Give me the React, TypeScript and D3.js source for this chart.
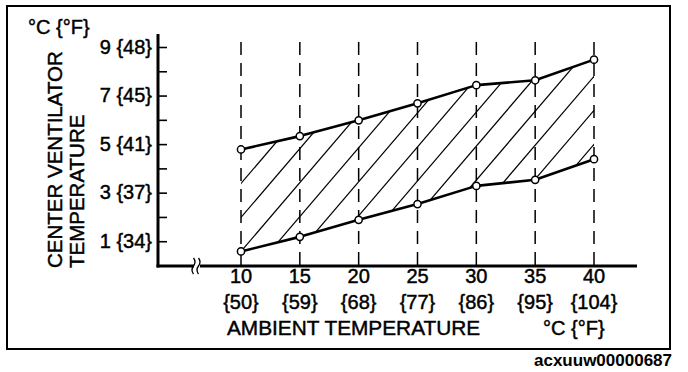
import React from "react";
import * as d3 from "d3";

// ---- data ----
const ambientC = [10, 15, 20, 25, 30, 35, 40];
const ambientF = ["{50}", "{59}", "{68}", "{77}", "{86}", "{95}", "{104}"];
const upperC = [4.8, 5.35, 6.0, 6.7, 7.45, 7.65, 8.5];
const lowerC = [0.6, 1.2, 1.9, 2.55, 3.3, 3.55, 4.4];
const yMajorC = [1, 3, 5, 7, 9];
const yMajorF = ["{34}", "{37}", "{41}", "{45}", "{48}"];
const yMinorC = [2, 4, 6, 8];

const W = 688;
const H = 372;
const FONT = "'Liberation Sans', Arial, Helvetica, sans-serif";

export default function App() {
  const x = d3.scaleLinear().domain([10, 40]).range([241, 594]);
  const y = d3.scaleLinear().domain([0, 9]).range([266, 47.5]);

  const axisX0 = 158;
  const axisX1 = 637;
  const axisY = y(0);
  const axisTop = 34;
  const gridTop = 42;

  const upperPts: [number, number][] = ambientC.map((t, i) => [x(t), y(upperC[i])]);
  const lowerPts: [number, number][] = ambientC.map((t, i) => [x(t), y(lowerC[i])]);
  const line = d3.line();
  const areaPoly = [...upperPts, ...lowerPts.slice().reverse()];
  const areaPath = line(areaPoly) + "Z";

  // hatch lines anchored at the first lower point
  const slope = 1.17;
  const spacing = 34;
  const ax = lowerPts[0][0];
  const ay = lowerPts[0][1];
  const hatch: [number, number, number, number][] = [];
  for (let k = -4; k <= 14; k++) {
    const c = ay + k * spacing;
    const xa = ax - 40;
    const xb = x(40) + 40;
    hatch.push([xa, c - slope * (xa - ax), xb, c - slope * (xb - ax)]);
  }

  const breakX = 197;
  const txt = { stroke: "#000", strokeWidth: 0.45 };

  return (
    <svg
      width={W}
      height={H}
      style={{ position: "absolute", left: 0, top: 0, background: "#fff" }}
      fontFamily={FONT}
    >
      <rect x={0} y={0} width={W} height={H} fill="#fff" />
      {/* frame */}
      <rect x={7} y={6} width={663} height={343} fill="none" stroke="#000" strokeWidth={2} />

      <defs>
        <clipPath id="areaClip">
          <path d={areaPath} />
        </clipPath>
      </defs>

      {/* dashed verticals */}
      {ambientC.map((t) => (
        <line
          key={"g" + t}
          x1={x(t)}
          x2={x(t)}
          y1={gridTop}
          y2={axisY}
          stroke="#000"
          strokeWidth={1.5}
          strokeDasharray="13,8"
        />
      ))}

      {/* hatching */}
      <g clipPath="url(#areaClip)">
        {hatch.map((h, i) => (
          <line key={"h" + i} x1={h[0]} y1={h[1]} x2={h[2]} y2={h[3]} stroke="#000" strokeWidth={1.2} />
        ))}
      </g>

      {/* boundary lines */}
      <path d={line(upperPts) || ""} fill="none" stroke="#000" strokeWidth={2.6} strokeLinejoin="round" />
      <path d={line(lowerPts) || ""} fill="none" stroke="#000" strokeWidth={2.6} strokeLinejoin="round" />
      {[...upperPts, ...lowerPts].map((p, i) => (
        <circle key={"c" + i} cx={p[0]} cy={p[1]} r={3.6} fill="#fff" stroke="#000" strokeWidth={1.5} />
      ))}

      {/* axes */}
      <line x1={axisX0} x2={axisX0} y1={axisTop} y2={axisY + 1.5} stroke="#000" strokeWidth={3} />
      <line x1={axisX0 - 1.5} x2={axisX1} y1={axisY} y2={axisY} stroke="#000" strokeWidth={3} />
      {/* axis break */}
      <rect x={breakX - 3} y={axisY - 3} width={6} height={6} fill="#fff" />
      {[-2.5, 2.5].map((o) => (
        <path
          key={"b" + o}
          d={`M${breakX + o - 1},${axisY - 8} q3,4 0,8 q-3,4 0,8`}
          fill="none"
          stroke="#000"
          strokeWidth={1.3}
        />
      ))}

      {/* y ticks */}
      {[...yMajorC, ...yMinorC].map((v) => (
        <line key={"t" + v} x1={axisX0} x2={axisX0 + 9} y1={y(v)} y2={y(v)} stroke="#000" strokeWidth={1.6} />
      ))}
      {yMajorC.map((v, i) => (
        <text key={"yl" + v} x={152} y={y(v)} dy="0.3em" textAnchor="end" fontSize={20} {...txt}>
          {v + " " + yMajorF[i]}
        </text>
      ))}

      {/* x tick labels */}
      {ambientC.map((t, i) => (
        <g key={"xl" + t}>
          <text x={x(t)} y={283} textAnchor="middle" fontSize={20} {...txt}>
            {t}
          </text>
          <text x={x(t)} y={309} textAnchor="middle" fontSize={20} {...txt}>
            {ambientF[i]}
          </text>
        </g>
      ))}

      {/* titles */}
      <text x={227} y={335} fontSize={20.8} {...txt}>AMBIENT TEMPERATURE</text>
      <text x={543} y={335} fontSize={20} {...txt}>°C {"{°F}"}</text>
      <text x={28} y={34} fontSize={20} {...txt}>°C {"{°F}"}</text>
      <text transform="translate(62,268) rotate(-90)" fontSize={20.5} {...txt}>CENTER VENTILATOR</text>
      <text transform="translate(84,268) rotate(-90)" fontSize={20.5} {...txt}>TEMPERATURE</text>

      <text x={672} y={366} textAnchor="end" fontSize={17} fontWeight="bold">acxuuw00000687</text>
    </svg>
  );
}
